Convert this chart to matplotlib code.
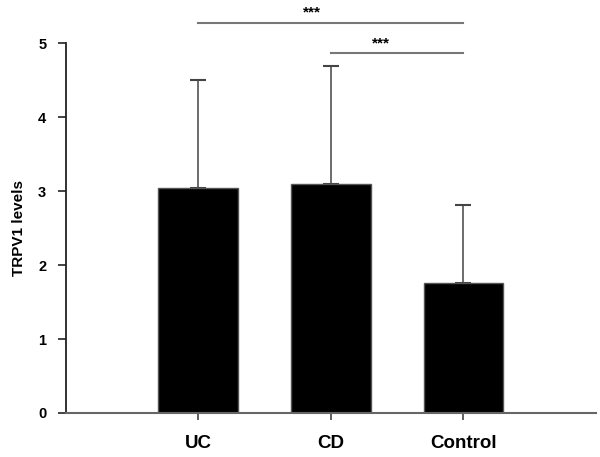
import matplotlib
matplotlib.use("Agg")
import matplotlib.pyplot as plt
import numpy as np

groups = ['UC', 'CD', 'Control']
means = [3.05, 3.10, 1.76]
sd_upper = [1.46, 1.60, 1.06]
# significance brackets: (start group, end group, bar height, star height, star x)
sig_pairs = [(0, 2, 5.28, 5.42, 0.86), (1, 2, 4.865, 5.0, 1.38)]
sig_text = ['***', '***']

plt.rcParams['font.family'] = ['Liberation Sans', 'DejaVu Sans']
plt.rcParams['font.weight'] = 'bold'

fig = plt.figure(figsize=(6, 4.57), dpi=100)
ax = fig.add_axes([0.1095, 0.0963, 0.8835, 0.8087])

x = np.arange(len(groups))
ax.bar(x, means, width=0.6, color='black', edgecolor='#555555', linewidth=1, zorder=2)
ax.errorbar(x, means, yerr=[np.zeros(len(means)), sd_upper], fmt='none',
            ecolor='#444444', elinewidth=1.1, capsize=6, capthick=1.5, zorder=1)

for (a, b, yl, ys, xs), txt in zip(sig_pairs, sig_text):
    ax.plot([a, b], [yl, yl], color='#777777', lw=1.5, clip_on=False)
    ax.text(xs, ys, txt, ha='center', va='center', fontsize=11, fontweight='bold', clip_on=False)

ax.set_xlim(-1, 3)
ax.set_ylim(0, 5)
ax.set_xticks(x)
ax.set_xticklabels(groups, fontsize=13.5, fontweight='bold')
ax.set_yticks([0, 1, 2, 3, 4, 5])
ax.set_yticklabels(['0', '1', '2', '3', '4', '5'], fontsize=10.5, fontweight='bold')
ax.tick_params(axis='x', direction='out', length=5, width=1.2, pad=11, color='#444444')
ax.tick_params(axis='y', direction='out', length=6, width=1.2, pad=8, color='#222222')
ax.set_ylabel('TRPV1 levels', fontsize=11, fontweight='bold', labelpad=9)

ax.spines['top'].set_visible(False)
ax.spines['right'].set_visible(False)
ax.spines['left'].set_color('#222222')
ax.spines['left'].set_linewidth(1.3)
ax.spines['bottom'].set_color('#666666')
ax.spines['bottom'].set_linewidth(1.5)

fig.savefig('out.png', dpi=100)
